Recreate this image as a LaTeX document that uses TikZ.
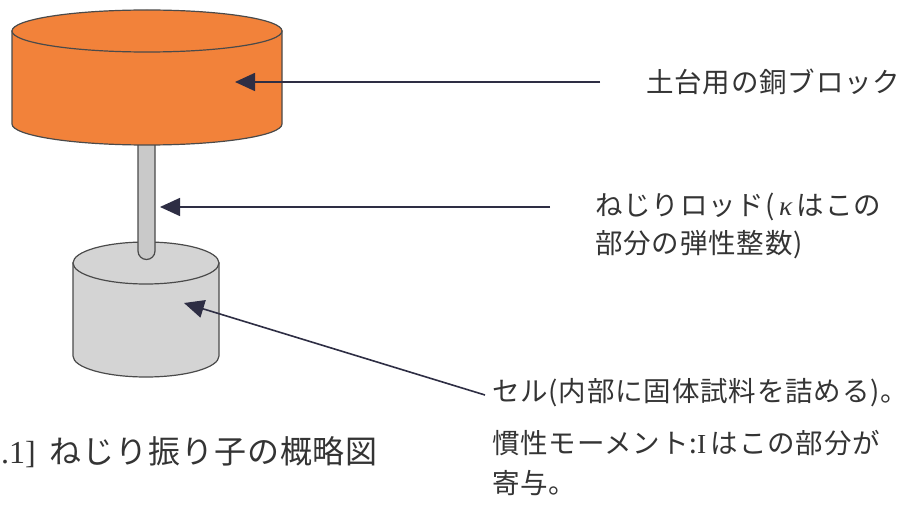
\documentclass[tikz,border=0pt]{standalone}
\usepackage{fontspec}
\setmainfont{Liberation Serif}
\newfontfamily\jp[LetterSpace=3]{Noto Sans CJK JP}
\usetikzlibrary{arrows.meta}
\definecolor{copper}{HTML}{F2823A}
\definecolor{cellgray}{HTML}{D4D4D4}
\definecolor{rodgray}{HTML}{C9C9C9}
\definecolor{outline}{HTML}{4A4A4A}
\definecolor{pointer}{HTML}{2E2E44}
\definecolor{ink}{HTML}{343434}
\tikzset{
  body/.style={draw=outline, line width=1.2pt},
  pointerline/.style={draw=pointer, line width=1.6pt, -{Triangle[length=20pt,width=18pt]}},
  label/.style={anchor=west, inner sep=0pt, text=ink, font=\jp\fontsize{27.5}{32}\selectfont},
  caption/.style={anchor=west, inner sep=0pt, text=ink, font=\jp\fontsize{32}{36}\selectfont}
}
\begin{document}
\begin{tikzpicture}[x=1pt,y=1pt]
  \useasboundingbox (0,0) rectangle (908,515);
  \fill[white] (0,0) rectangle (908,515);

  % sample cell (lower cylinder)
  \path[body, fill=cellgray] (73,252) -- (73,159)
    arc[start angle=180, end angle=360, x radius=73, y radius=21] -- (219,252) -- cycle;
  \path[body, fill=cellgray] (146,252) ellipse[x radius=73, y radius=21];

  % torsion rod
  \path[body, fill=rodgray] (138,392) -- (138,264)
    arc[start angle=180, end angle=360, radius=8.5] -- (155,392) -- cycle;

  % copper base block (upper cylinder)
  \path[body, fill=copper] (12,484) -- (12,391)
    arc[start angle=180, end angle=360, x radius=135, y radius=21] -- (282,484) -- cycle;
  \path[body, fill=copper] (147,484) ellipse[x radius=135, y radius=21];

  % pointer targets on the parts
  \coordinate (blockpt) at (235,433);
  \coordinate (rodpt) at (160,308);
  \coordinate (cellpt) at (184,212);

  % labels
  \node[label] (blocklbl) at (646,433) {土台用の銅ブロック};
  \node[label] (rodlbl1) at (595,308) {ねじりロッド(\,{\rmfamily\itshape κ}\,はこの};
  \node[label] (rodlbl2) at (595,270) {部分の弾性整数)};
  \node[label] (celllbl1) at (492,122) {セル(内部に固体試料を詰める)。};
  \node[label] (celllbl2) at (492,72) {慣性モーメント:{\rmfamily I}\,はこの部分が};
  \node[label] (celllbl3) at (492,32) {寄与。};
  \node[caption] (cap) at (1,63) {{\rmfamily .1]}\, ねじり振り子の概略図};

  % pointer start points beside the labels
  \coordinate (blockfrom) at (600,433);
  \coordinate (rodfrom) at (550,308);
  \coordinate (cellfrom) at (485,120);

  \draw[pointerline] (blockfrom) -- (blockpt);
  \draw[pointerline] (rodfrom) -- (rodpt);
  \draw[pointerline] (cellfrom) -- (cellpt);
\end{tikzpicture}
\end{document}
